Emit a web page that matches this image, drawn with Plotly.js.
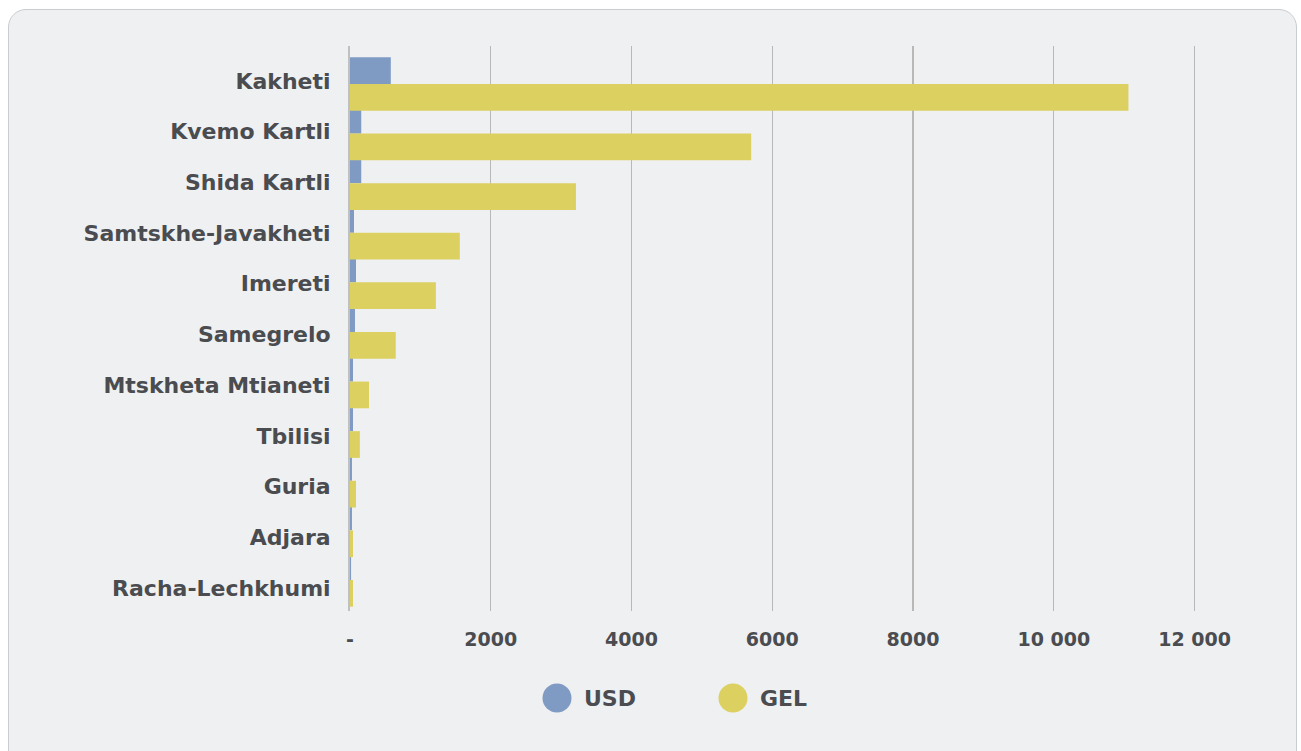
<!DOCTYPE html>
<html>
<head>
<meta charset="utf-8">
<script src="https://cdn.plot.ly/plotly-3.0.1.min.js"></script>
<style>
  html, body { margin: 0; padding: 0; background: #ffffff; width: 1301px; height: 751px; overflow: hidden; }
  #panel { position: absolute; left: 8px; top: 9px; width: 1289px; height: 760px;
           background: #eff0f2; border: 1px solid #c9ccd0; border-radius: 18px; box-sizing: border-box; }
  #chart { position: absolute; left: 0; top: 0; width: 1301px; height: 751px; }
</style>
</head>
<body>
<div id="panel"></div>
<div id="chart"></div>
<script>
// ---- data ----
const regions = ["Kakheti", "Kvemo Kartli", "Shida Kartli", "Samtskhe-Javakheti", "Imereti",
                 "Samegrelo", "Mtskheta Mtianeti", "Tbilisi", "Guria", "Adjara", "Racha-Lechkhumi"];
const usdValues = [580, 160, 160, 57, 85, 71, 43, 43, 28, 28, 15];
const gelValues = [11060, 5700, 3210, 1560, 1220, 650, 270, 140, 85, 43, 43];
const seriesNames = ["USD", "GEL"];
const seriesColors = ["#7f9bc4", "#dbd060"];
const xTickValues = [0, 2000, 4000, 6000, 8000, 10000, 12000];
const xTickLabels = ["-", "2000", "4000", "6000", "8000", "10 000", "12 000"];

const textColor = "#4a4c50";
const fontFam = "DejaVu Sans, sans-serif";

// bar geometry (in category units): bars are spaced slightly tighter than the labels
const barW = 0.527;
const shift = regions.map((r, i) => 0.059 - 0.0217 * i);

const traces = [
  { type: "bar", orientation: "h", name: seriesNames[0], y: regions, x: usdValues,
    marker: { color: seriesColors[0] }, width: barW, offset: shift.map(s => s - barW),
    showlegend: false, hoverinfo: "x+y" },
  { type: "bar", orientation: "h", name: seriesNames[1], y: regions, x: gelValues,
    marker: { color: seriesColors[1] }, width: barW, offset: shift,
    showlegend: false, hoverinfo: "x+y" }
];

const W = 1301, H = 751, ml = 350, mr = 105, mt = 46, mb = 140;
const pw = W - ml - mr, ph = H - mt - mb;
const px2paperX = p => (p - ml) / pw;
const px2paperY = p => (H - mb - p) / ph;

// legend built from the series names/colours
const legendX = [557, 733];
const shapes = seriesNames.map((n, i) => {
  const cx = legendX[i], cy = 698, r = 14.5;
  return {
    type: "circle", xref: "paper", yref: "paper",
    x0: px2paperX(cx - r), x1: px2paperX(cx + r),
    y0: px2paperY(cy + r), y1: px2paperY(cy - r),
    fillcolor: seriesColors[i], line: { width: 0 }
  };
});

const annotations = seriesNames.map((n, i) => ({
  xref: "paper", yref: "paper", x: px2paperX(legendX[i] + 25), y: px2paperY(698),
  xanchor: "left", yanchor: "middle", text: n, showarrow: false,
  font: { family: fontFam, size: 22, color: textColor, weight: 700 }
}));

const layout = {
  width: W, height: H,
  margin: { l: ml, r: mr, t: mt, b: mb, pad: 0 },
  paper_bgcolor: "rgba(0,0,0,0)", plot_bgcolor: "rgba(0,0,0,0)",
  barmode: "overlay",
  showlegend: false,
  xaxis: {
    range: [0, 12020], tickvals: xTickValues, ticktext: xTickLabels,
    showgrid: true, gridcolor: "#b8b8b8", gridwidth: 1.2, zeroline: false,
    showline: false, ticks: "", ticklabelstandoff: 15,
    tickfont: { family: fontFam, size: 19, color: textColor, weight: 700 }
  },
  yaxis: {
    type: "category", autorange: false, range: [10.454, -0.690],
    showgrid: false, zeroline: false, showline: true, linecolor: "#c0c0c0", linewidth: 2,
    ticks: "", ticklabelstandoff: 13,
    tickfont: { family: fontFam, size: 22, color: textColor, weight: 700 }
  },
  shapes: shapes,
  annotations: annotations
};

Plotly.newPlot("chart", traces, layout, { displayModeBar: false, staticPlot: true });
</script>
</body>
</html>
